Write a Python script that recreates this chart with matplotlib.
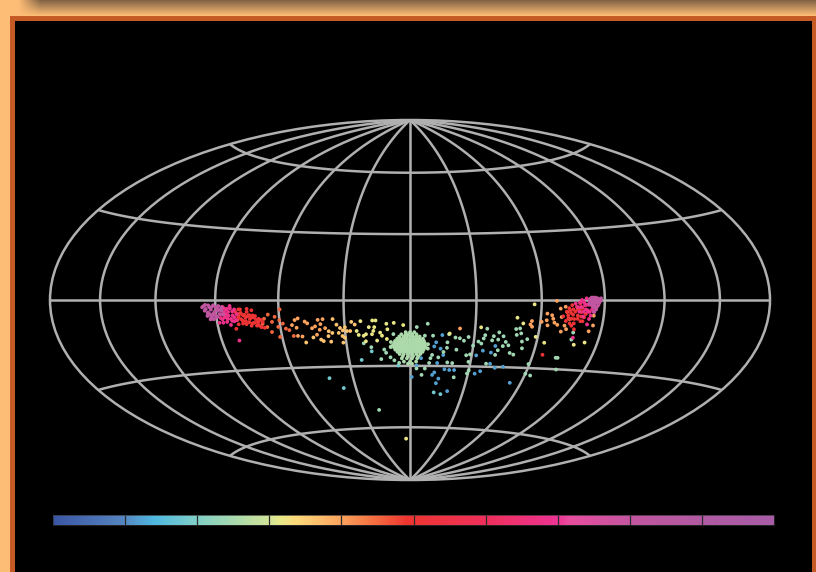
# sky map of clusters, hammer projection, colour by group value
import numpy as np
import matplotlib
matplotlib.use("Agg")
import matplotlib.pyplot as plt
from matplotlib.colors import LinearSegmentedColormap
from matplotlib.cm import ScalarMappable
from matplotlib.patches import Rectangle

# 1. data (degrees)
purple_lon = [-95.8,-94.8,-93.8,-93.5,-92.3,-91.7,-91.1,-90.5,-89.2,-88.2,-88.6,-87.1,-94.3,-92.8,-95.4,-90.2,
              -96.5,-95,-93,-92,-91,-90,-89,-88,-87,-86.5,-94,-92.5,-90.5,-89.5,-93,-91.5,
              85.1,86.6,88.2,85.9,87.4,84.3,83.6,85.1,86.6,82.8,85.9,
              84.5,85.5,86.5,87.5,88,83,84,85,86,87,84.5,85.5,83.5,82.5,86,85]
purple_lat = [-2.5,-3.7,-5.1,-2.2,-4,-6.6,-2.2,-4.8,-3.4,-5.9,-2.5,-4.4,-6.6,-5.9,-4.4,-7.3,
              -3,-2,-3,-3,-5.5,-3,-4.5,-4,-3,-6,-5.5,-7,-6,-7,-8,-8,
              0.4,0.7,0.7,-1,-1,0,1,-2.5,-2.5,0.4,-4,
              1,1,0.2,0.2,-0.3,-0.5,-1,-1.5,-0.8,-1.8,-3,-3.2,-2,-1.5,-3.5,-5]
pink_lon = [-86.6,-85.9,-84.6,-84,-83.1,-82,-81.3,-87.1,-88.9,-85.1,-82.5,-81.3,-87.4,-85.6,
            -86,-85,-84,-83,-82,-81,-80,-84.5,-83,-81.5,-86,-88,-87,-83.5,-80.5,-85,
            79,80.5,82,82.8,84.3,81.2,83.6,79.7,85.1,82.5,77.1,
            78,79,80,81,82,83,84,81,82,83,78.5,80,77,76,78,80,83]
pink_lat = [-2.9,-5.1,-3.7,-6.6,-2.5,-4.8,-7.3,-8.1,-9.5,-9.2,-8.8,-17.2,-5.9,-7.3,
            -3.5,-4,-5,-3.5,-6.5,-4,-6,-8,-8,-9,-7,-7.5,-9.5,-10.5,-8.5,-6,
            0,-2.2,-4.4,-0.7,-2.9,0.7,-6.6,-0.7,-5.1,-10.3,-16.1,
            -1,-3,-1,-2,-2,-2,-4,-4,-5,-5,-3,-5,-3,-1.5,-5,-7,-8]
red_lon = [-80.5,-79.4,-78.2,-77.4,-76.4,-75.1,-73.9,-72.8,-72.1,-71.3,-79.7,-75.9,-69.8,-69,-81.3,-73.6,
           -78.2,-74.4,-70.5,-79,-72.4,
           -79,-78,-77,-76,-75,-74,-73,-72,-71,-70,-69,-68,-80,-77.5,-76,-74.5,-73,-71,-79,-75,-70,-67.5,
           73.6,75.1,76.6,75.9,78.2,79,74.4,77.4,80.5,72.8,79.4,76.6,81.2,64.8,
           72,73,74,75,76,77,78,79,73,74.5,76,77.5,79,70.5,72,74,80,75]
red_lat = [-5.1,-7.3,-4,-8.8,-6.3,-5.1,-8.1,-4.4,-9.8,-6.9,-10.3,-10.3,-8.1,-11.7,-12.2,-11,
           -8.1,-6.6,-9.5,-5.9,-6.6,
           -6.5,-5.5,-6.5,-7.5,-7,-6.5,-7.5,-7.5,-8.5,-9.5,-8.5,-9.5,-8.5,-10,-9,-9.5,-10,-11,-4,-3.8,-11,-12,
           -4.4,-6.3,-2.9,-8.1,-1.5,-5.1,-2.2,-6.6,-7.3,-6.6,-3.4,-12.5,-5.9,-23.9,
           -5,-3.5,-5.5,-4,-5,-4,-4,-7,-8,-8,-10,-8,-9,-7,-9,-10,-9,-11]
redorange_lon = [-68.2,-67.2,-66.2,-65.2,-64.4,-63.6,-62.1,-61,-59.5,-60.1,-58.6,-57.5,-56,-61,-54.4]
redorange_lat = [-10.3,-8.1,-11.7,-6.3,-13.9,-9.5,-7.3,-11.7,-4.1,-8.8,-10.3,-12.5,-13.2,-16.1,-15.8]
orange_lon = [-54.4,-52.9,-51.4,-52.4,-52.4,-50.3,-48.3,-47.2,-45.2,-43.7,-42.2,-41.1,-39.9,-39.1,-41.7,-43.3,
              62.9,60.6,63.6,65.9,67.1,68.2,70.5,65.2,69,72.1,73.6,71.7,72.8,66.7,69.8,62.9,71.3,
              23,56,55.5,56.4,84,85.5,85.1]
orange_lat = [-11,-8.8,-8.1,-12.2,-15.8,-16.1,-9.5,-10.3,-12.5,-11.7,-8.8,-10.7,-8.5,-12.5,-13.2,-15.4,
              -5.9,-9.5,-11,-8.1,-0.4,-10.7,-13.6,-6.6,-3.7,-5.1,-8.1,-11,-12.5,-9.8,-7.3,-8.8,-2.9,
              -12.8,-9.2,-10.7,-11.7,-13.2,-10.7,-6.6]
light_lon = [-49.1,-45.2,-41.7,-40.6,-37.6,-36,-38,-37.1,-35.3,-33.7,-32.2,-31,-29.9,-33,-31.4,-29.1,-27.6,-26.8,-25.3,-30.4,-31.4]
light_lat = [-18.8,-16.6,-17.6,-18.3,-13.9,-14.7,-16.1,-18.6,-8.5,-11,-12.5,-13.6,-12.2,-14.7,-16.1,-13.9,-13.9,-9.8,-11,-16.9,-19.1]
yellow_lon = [-24.6,-22.6,-23.8,-21.5,-20.4,-20.7,-18.9,-17.2,-15.7,-16.4,-16.9,-17.6,-13.8,-13,-15.4,-10.8,-10.4,-7.4,-3.1,-10.8,-3.6,
              18.4,32.7,56.7,49.1,52.1,59,63.8,78.6,83.6]
yellow_lat = [-13.9,-9.5,-15.7,-16.1,-15.4,-18.6,-12.2,-9.2,-9.2,-12.2,-13.9,-15.4,-14.7,-16.1,-18.3,-10.7,-13.2,-10.3,-11.3,-17.6,-66,
              -15.1,-12.2,-1.9,-7.8,-10.3,-16.1,-18.6,-19.1,-18]
green_lon = [-21.8,-18.4,-12.3,-11.5,-14.1,-9.5,-7.7,-5.4,-7.7,-9.2,-20,
             3.1,8.1,10.7,6.9,18.1,21.2,23.3,27.3,17.6,25.3,22.2,17.6,16.1,21,18.5,13.8,10.7,10,9.5,7.5,6,3.3,
             29.9,32.2,33.7,35.6,35,34.5,39.1,41.4,43.7,41.4,38.6,45.2,46.8,49.1,50.9,49.8,51.8,52.9,55.2,53.7,48.3,50.3,
             44.2,42.2,41.4,29.1,27.3,29,30,38,59.5,60,63,72,73,75,76.6,76.6,23,29.5]
green_lat = [-19.5,-21.3,-22.4,-23.9,-26.8,-26,-27.4,-28.6,-15.4,-21.3,-51,
             -12.2,-10.7,-16.1,-16.1,-15.4,-16.9,-17.2,-16.6,-19.1,-18.3,-22.4,-21.6,-23.5,-28.6,-28.3,-26,-24.9,-26.4,-28.6,-31.2,-34.2,-31.2,
             -20.5,-18.6,-19.5,-12.8,-15.7,-17.2,-16.1,-14.4,-16.1,-17.6,-18,-18.6,-20.1,-12.8,-12.5,-15.4,-14.7,-18.3,-17.2,-21.3,-23.5,-24.2,
             -20.5,-22.4,-24.5,-24.5,-24.9,-27.9,-31.8,-28.6,-28.2,-32.6,-33.3,-25,-25,-30.1,-13.9,-16.9,-35.2,-33.3]
cyan_lon = [-18.4,-23.8,-42.6,-36.8,-5.8,-5.8,13.5,17.5]
cyan_lat = [-23.2,-27.1,-35.2,-40,-29.8,-20.5,-42.5,-43.3]
blue_lon = [12.3,15,11.5,14.6,16.1,5.4,3.3,13.5,32.2,35,39.1,40.6,40,43,47,36,33.5,22.5,20,17.5,12.5,11.5,15,14,0.9,21,54]
blue_lat = [-19.1,-15.8,-21,-22,-24.9,-26.4,-29.8,-28.6,-24.9,-22.7,-23.5,-20.5,-28.6,-30.4,-29.8,-32.1,-33.3,-31.8,-31.8,-31.5,-33,-34.2,-35.9,-38.1,-35.2,-41.8,-37]
# central clump, row by row
blob_lon = [-2,0,2, -4,-2,-1,1,3, -5,-3,-1.5,0,1.5,3,4.5, -6,-4.5,-3,-1.5,0,1.5,3,4.5,6,
            -7,-5.5,-4,-2.5,-1,0.5,2,3.5,5,6.5, -7.5,-6,-4.5,-3,-1.5,0,1.5,3,4.5,6,7,
            -8,-6.5,-5,-3.5,-2,-0.5,1,2.5,4,5.5,7, -7.5,-6,-4.5,-3,-1.5,0,1.5,3,4.5,6,7.5,
            -7,-5.5,-4,-2.5,-1,0.5,2,3.5,5,6.5, -6,-4.5,-3,-1.5,0,1.5,3,4.5,6,
            -5,-3,-1,1,3,5, -3.5,-1,1.5,4, -4,-1.5,1,3.5, -3,0,3, -1,1,
            -9,-9,8.5,8.5]
blob_lat = [-14.5]*3 + [-15.5]*5 + [-16.5]*7 + [-17.5]*9 + [-18.5]*10 + [-19.5]*11 + [-20.5]*11 \
           + [-21.5]*11 + [-22.5]*10 + [-23.5]*9 + [-24.5]*6 + [-25.5]*4 + [-26.5]*4 + [-28]*3 + [-29]*2 \
           + [-21,-19,-20,-22]

groups = [(blue_lon, blue_lat, 0.12), (cyan_lon, cyan_lat, 0.18), (green_lon, green_lat, 0.24),
          (blob_lon, blob_lat, 0.255), (yellow_lon, yellow_lat, 0.32), (light_lon, light_lat, 0.36),
          (orange_lon, orange_lat, 0.40), (redorange_lon, redorange_lat, 0.45), (red_lon, red_lat, 0.50),
          (pink_lon, pink_lat, 0.68), (purple_lon, purple_lat, 0.82)]

# colour bar stops
cmap_pos = [0, 0.096, 0.139, 0.197, 0.26, 0.298, 0.315, 0.338, 0.398, 0.444, 0.49, 0.60, 0.70, 0.717, 0.80, 0.90, 1]
cmap_col = ["#3b55a5", "#5585c0", "#4fb8e0", "#80cfc8", "#b0dba8", "#d0e49a", "#e8e888", "#fdd87a", "#fca45f",
            "#f47040", "#ef3530", "#ef2f5a", "#ee3393", "#e84d9e", "#c455a0", "#b05aa2", "#a85ca6"]
cmap = LinearSegmentedColormap.from_list("sky", list(zip(cmap_pos, cmap_col)))

W, H = 816, 572
fig = plt.figure(figsize=(W / 100, H / 100), dpi=100, facecolor="black")

# 2. page background: shadow on top, orange frame, black panel
bg = fig.add_axes([0, 0, 1, 1])
bg.set_xlim(0, W)
bg.set_ylim(H, 0)
bg.axis("off")
bg.add_patch(Rectangle((0, 0), W, H, color="#fdbd76", lw=0))
shade = np.zeros((16, W, 4))
shade[..., :3] = np.array([0.22, 0.18, 0.16])
fade_x = np.clip((np.arange(W) - 18) / 22, 0, 1)
fade_y = np.clip(1 - np.arange(16) / 15, 0, 1)
shade[..., 3] = np.outer(fade_y, fade_x) * 0.62
bg.imshow(shade, extent=[0, W, 16, 0], aspect="auto", interpolation="bilinear", zorder=1)
bg.set_xlim(0, W)
bg.set_ylim(H, 0)
bg.add_patch(Rectangle((10, 16), W - 10, H - 16, color="#c65a24", lw=0, zorder=2))
bg.add_patch(Rectangle((15, 21), 797, H - 21, color="black", lw=0, zorder=3))

# 3. the map
ax = fig.add_axes([49 / W, (H - 480) / H, 722 / W, 360 / H], projection="hammer")
ax.patch.set_alpha(0)
ax.set_longitude_grid(30)
ax.set_latitude_grid(30)
ax.set_longitude_grid_ends(90)
ax.grid(True, color="#b0b0b0", linewidth=1.8)
ax.spines["geo"].set_color("#b0b0b0")
ax.spines["geo"].set_linewidth(1.8)
ax.set_xticklabels([])
ax.set_yticklabels([])
ax.tick_params(length=0)
for lon, lat, val in groups:
    ax.scatter(np.radians(lon), np.radians(lat), c=[val] * len(lon), cmap=cmap, vmin=0, vmax=1,
               s=7.5, linewidths=0, zorder=3)

# 4. colour bar with ten cells
cax = fig.add_axes([53 / W, (H - 525) / H, 721 / W, 10 / H])
cb = fig.colorbar(ScalarMappable(cmap=cmap), cax=cax, orientation="horizontal")
cb.set_ticks([])
cb.outline.set_edgecolor("#333333")
cb.outline.set_linewidth(0.5)
cax.vlines(np.arange(1, 10) / 10, 0, 1, color="#2a2a2a", linewidth=0.9)

plt.savefig("out.png", dpi=100, facecolor="black")
